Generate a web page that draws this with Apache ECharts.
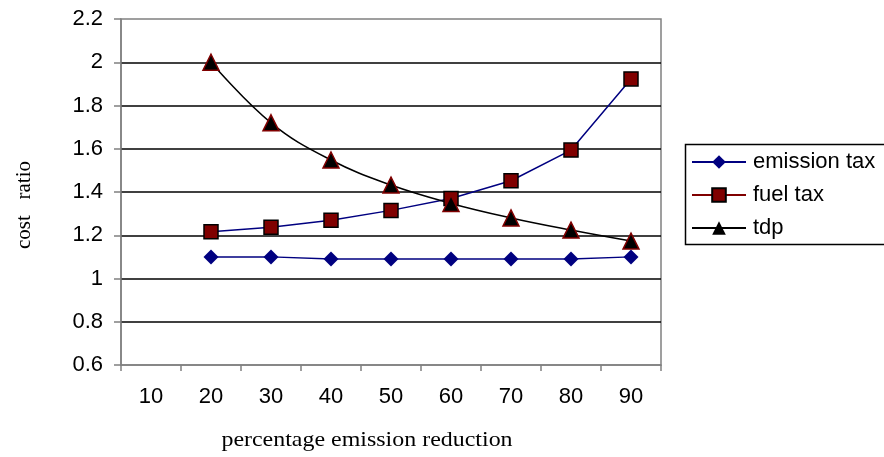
<!DOCTYPE html>
<html>
<head>
<meta charset="utf-8">
<script src="https://cdn.jsdelivr.net/npm/echarts@6/dist/echarts.min.js"></script>
<style>html,body{margin:0;padding:0;background:#fff;}#c{width:884px;height:457px;}</style>
</head>
<body>
<div id="c"></div>
<script>
const categories = ['10','20','30','40','50','60','70','80','90'];
const emissionTax = [null, 1.10, 1.10, 1.09, 1.09, 1.09, 1.09, 1.09, 1.10];
const fuelTax = [null, 1.216, 1.237, 1.269, 1.315, 1.370, 1.452, 1.594, 1.923];
const tdp = [null, 2.00, 1.72, 1.548, 1.432, 1.347, 1.280, 1.224, 1.173];
const yMin = 0.6, yMax = 2.2, yStep = 0.2;

const chart = echarts.init(document.getElementById('c'), null, {renderer: 'canvas'});
const sans = 'Liberation Sans, Arial, sans-serif';
const serif = 'Liberation Serif, Times New Roman, serif';
chart.setOption({
  animation: false,
  backgroundColor: '#fff',
  grid: {left: 121, right: 223, top: 19, bottom: 92, show: true, borderColor: '#808080', borderWidth: 1.5, backgroundColor: 'transparent'},
  xAxis: {
    type: 'category', data: categories, boundaryGap: true,
    axisLine: {lineStyle: {color: '#808080', width: 1.5}},
    axisTick: {show: true, interval: 0, length: 6, lineStyle: {color: '#808080', width: 1.5}},
    axisLabel: {color: '#000', fontFamily: sans, fontSize: 22, margin: 21, interval: 0},
    splitLine: {show: false}
  },
  yAxis: {
    type: 'value', min: yMin, max: yMax, interval: yStep,
    axisLine: {show: true, lineStyle: {color: '#808080', width: 1.5}},
    axisTick: {show: true, length: 7, lineStyle: {color: '#808080', width: 1.5}},
    axisLabel: {color: '#000', fontFamily: sans, fontSize: 22, margin: 18,
      formatter: v => String(Math.round(v * 10) / 10)},
    splitLine: {show: true, showMinLine: false, showMaxLine: false, lineStyle: {color: '#000', width: 1.5}}
  },
  legend: {
    orient: 'vertical', left: 691, top: 151, padding: 0,
    itemWidth: 54, itemHeight: 17, itemGap: 11,
    textStyle: {color: '#000', fontFamily: sans, fontSize: 22, lineHeight: 18, padding: [0, 0, 0, 2]},
    data: [
      {name: 'emission tax'},
      {name: 'fuel tax', lineStyle: {color: '#800000'}},
      {name: 'tdp', itemStyle: {borderWidth: 0}}
    ]
  },
  graphic: [
    {type: 'rect', left: 683, top: 142, shape: {x: 0, y: 0, width: 210, height: 100},
      style: {fill: 'none', stroke: '#000', lineWidth: 1.5}, z: 100},
    {type: 'text', x: 24, y: 205, rotation: Math.PI / 2,
      style: {text: 'cost   ratio', fill: '#000', font: '21px ' + serif, textAlign: 'center', textVerticalAlign: 'middle'}},
    {type: 'text', x: 367, y: 440, scaleX: 1.14,
      style: {text: 'percentage emission reduction', fill: '#000', font: '21px ' + serif, textAlign: 'center', textVerticalAlign: 'middle'}}
  ],
  series: [
    {name: 'emission tax', type: 'line', data: emissionTax, symbol: 'diamond', symbolSize: 15,
      lineStyle: {color: '#000080', width: 1.5}, itemStyle: {color: '#000080'}},
    {name: 'fuel tax', type: 'line', data: fuelTax, symbol: 'rect', symbolSize: 14,
      lineStyle: {color: '#000080', width: 1.5}, itemStyle: {color: '#800000', borderColor: '#000', borderWidth: 1.5}},
    {name: 'tdp', type: 'line', data: tdp, symbol: 'triangle', symbolSize: 16, smooth: 0.4,
      lineStyle: {color: '#000', width: 1.5}, itemStyle: {color: '#000', borderColor: '#800000', borderWidth: 1.5}}
  ]
});
</script>
</body>
</html>
